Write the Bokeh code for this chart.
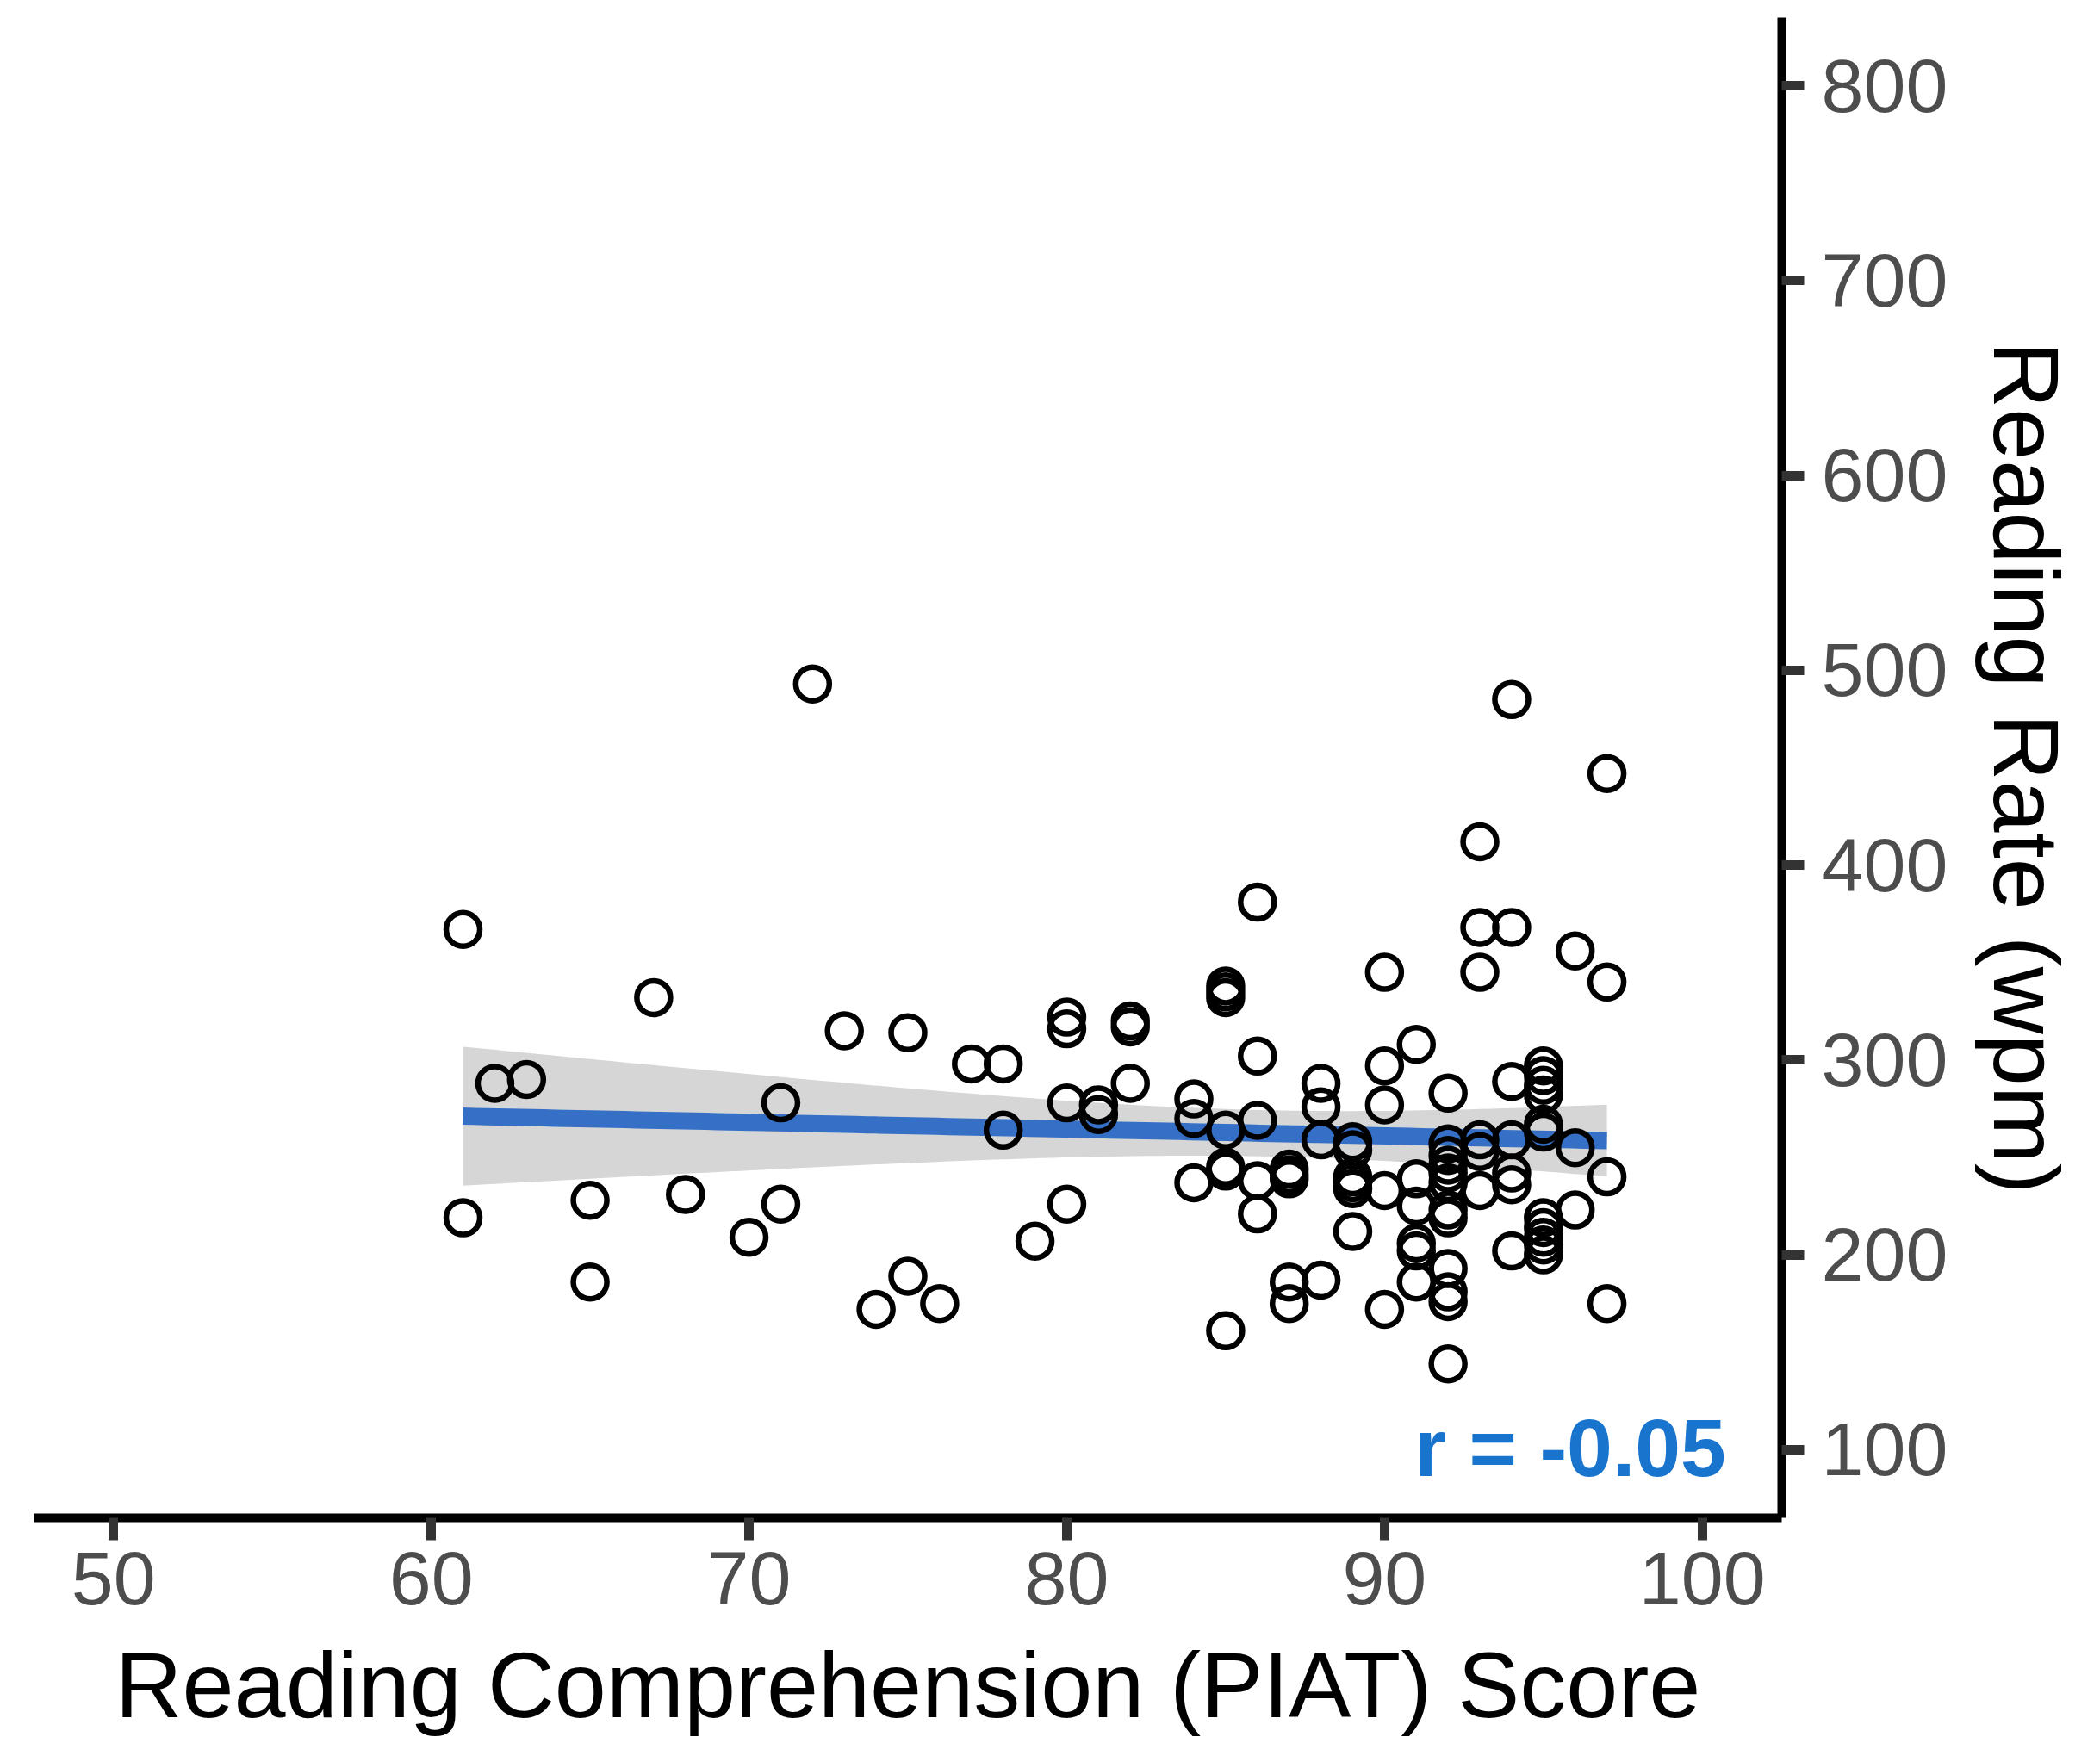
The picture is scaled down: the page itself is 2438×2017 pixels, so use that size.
import numpy as np
from bokeh.plotting import figure
from bokeh.models import Range1d, FixedTicker, ColumnDataSource
from bokeh.core.properties import value
from bokeh.embed import file_html
from bokeh.resources import INLINE

# ---- data ----
piat = [61, 61, 62, 63, 65, 65, 67, 68, 70, 71, 71, 72, 73, 74, 75, 75, 76, 77, 78, 78, 79,
        80, 80, 80, 80, 81, 81, 82, 82, 82, 84, 84, 84,
        85, 85, 85, 85, 85, 85, 85, 86, 86, 86, 86, 86,
        87, 87, 87, 87, 87, 88, 88, 88, 88,
        89, 89, 89, 89, 89, 89, 90, 90, 90, 90, 90,
        91, 91, 91, 91, 91, 91,
        92, 92, 92, 92, 92, 92, 92, 92, 92, 92, 92, 92,
        93, 93, 93, 93, 93, 93, 94, 94, 94, 94, 94, 94, 94,
        95, 95, 95, 95, 95, 95, 95, 95, 95, 95, 95,
        96, 96, 96, 97, 97, 97, 97]
rate = [367, 219, 288, 290, 228, 186, 332, 231, 209, 278, 226, 493, 315, 172, 314, 189, 175, 298, 298, 264, 207,
        322, 316, 278, 226, 277, 272, 320, 317, 288, 280, 270, 237,
        338, 335, 332, 264, 245, 243, 161, 381, 302, 269, 238, 221,
        244, 241, 239, 186, 175, 288, 276, 259, 187,
        258, 254, 240, 237, 234, 212, 345, 297, 277, 233, 172,
        308, 239, 225, 206, 202, 186,
        283, 257, 251, 246, 242, 237, 223, 219, 193, 181, 176, 144,
        412, 368, 345, 259, 253, 233, 485, 368, 289, 259, 242, 236, 202,
        297, 292, 287, 282, 267, 263, 219, 214, 209, 205, 200,
        356, 255, 223, 447, 340, 240, 175]

x_ticks = [50, 60, 70, 80, 90, 100]
y_ticks = [100, 200, 300, 400, 500, 600, 700, 800]
r_label = "r = -0.05"
x_title = "Reading Comprehension (PIAT) Score"
y_title = "Reading Rate (wpm)"

# ---- linear fit with 95% confidence band ----
xs = np.array(piat, dtype=float)
ys = np.array(rate, dtype=float)
n = len(xs)
b, a = np.polyfit(xs, ys, 1)
xm = xs.mean()
resid = ys - (a + b * xs)
s = np.sqrt((resid ** 2).sum() / (n - 2))
grid = np.linspace(xs.min(), xs.max(), 100)
fit = a + b * grid
se = s * np.sqrt(1.0 / n + (grid - xm) ** 2 / ((xs - xm) ** 2).sum())
t = 1.982
band = ColumnDataSource(dict(x=grid, lo=fit - t * se, hi=fit + t * se, fit=fit))
pts = ColumnDataSource(dict(x=piat, y=rate))

FONT = "Liberation Sans"

p = figure(frame_width=2029, frame_height=1742,
           min_border_left=39, min_border_top=20, min_border_right=370, min_border_bottom=255,
           x_range=Range1d(47.5, 102.5), y_range=Range1d(65, 835),
           y_axis_location="right", output_backend="svg", toolbar_location=None)
p.grid.visible = False
p.outline_line_color = None
p.background_fill_color = "white"
p.border_fill_color = "white"

p.varea(x="x", y1="lo", y2="hi", source=band, fill_color="#D6D6D6")
p.line(x="x", y="fit", source=band, line_width=20, line_color="#3670C6")
p.scatter(x="x", y="y", source=pts, marker="circle", size=39,
          fill_color=None, line_color="black", line_width=6.5)

p.text(x=[100.75], y=[101], text=[r_label], text_align="right", text_baseline="middle",
       text_font=value(FONT), text_font_size="95px", text_font_style="bold",
       text_color="#1874CD")

for ax, ticks in ((p.xaxis[0], x_ticks), (p.yaxis[0], y_ticks)):
    ax.ticker = FixedTicker(ticks=ticks)
    ax.minor_tick_line_color = None
    ax.axis_line_width = 10
    ax.axis_line_color = "black"
    ax.major_tick_line_width = 11
    ax.major_tick_line_color = "#333333"
    ax.major_tick_out = 26
    ax.major_tick_in = 0
    ax.major_label_text_font = FONT
    ax.major_label_text_font_size = "88px"
    ax.major_label_text_color = "#4D4D4D"
    ax.axis_label_text_font = FONT
    ax.axis_label_text_font_size = "108px"
    ax.axis_label_text_font_style = "normal"
    ax.axis_label_text_color = "black"

p.xaxis[0].axis_label = x_title
p.yaxis[0].axis_label = y_title
p.xaxis[0].major_label_standoff = 14
p.yaxis[0].major_label_standoff = 20
p.xaxis[0].axis_label_standoff = 30
p.yaxis[0].axis_label_standoff = 28

open("out.html", "w").write(file_html(p, INLINE))
